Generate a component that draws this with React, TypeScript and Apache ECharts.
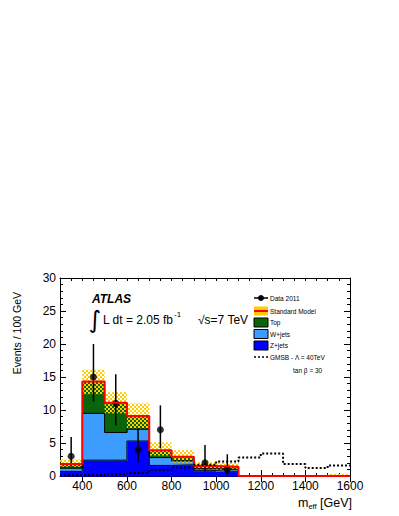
import React, { useEffect, useRef } from "react";
import * as echarts from "echarts";

// ---- data ----
const binEdges = [300, 400, 500, 600, 700, 800, 900, 1000, 1100, 1200, 1300, 1400, 1500, 1600];
const zJets = [0.7, 2.4, 2.4, 5.3, 1.6, 1.7, 0.8, 0.7, 0, 0, 0, 0, 0];
const wJets = [0.5, 7.1, 4.2, 1.8, 1.2, 0.6, 0.3, 0.3, 0, 0, 0, 0, 0];
const topBkg = [0.6, 4.8, 4.5, 2.0, 1.1, 0.6, 0.4, 0.4, 0, 0, 0, 0, 0];
const bandLow = [1.4, 12.4, 9.5, 7.2, 3.1, 2.0, 1.0, 0.8, 0, 0, 0, 0, 0];
const bandHigh = [2.5, 16.1, 12.7, 11.0, 5.1, 3.9, 2.1, 2.0, 0, 0, 0, 0, 0.3];
const gmsb = [0.1, 0.1, 0.25, 0.45, 0.9, 1.3, 1.7, 2.2, 2.8, 3.4, 1.8, 1.2, 1.6];
const dataX = [350, 450, 550, 650, 750, 950, 1050];
const dataY = [3, 15, 11, 4, 7, 2, 1];
const dataErrLow = [1.4, 11.3, 7.7, 2.1, 4.2, 0.7, 0.2];
const dataErrHigh = [5.9, 20.0, 15.4, 7.2, 10.7, 4.7, 3.3];
const xMajorTicks = [400, 600, 800, 1000, 1200, 1400, 1600];

const FONT = "'Liberation Sans', Arial, Helvetica, sans-serif";
const C_TOP = "#0a640a";
const C_W = "#3d9cff";
const C_Z = "#0000ff";
const C_RED = "#ff0000";
const C_YEL = "#ffcc00";

function makePattern(): any {
  const c = document.createElement("canvas");
  c.width = 4;
  c.height = 4;
  const ctx = c.getContext("2d")!;
  ctx.fillStyle = C_YEL;
  ctx.fillRect(0, 0, 2, 2);
  ctx.fillRect(2, 2, 2, 2);
  return { image: c.toDataURL(), repeat: "repeat", imageWidth: 4, imageHeight: 4 };
}

export default function App() {
  const ref = useRef<HTMLDivElement>(null);
  useEffect(() => {
    if (!ref.current) return;
    const chart = echarts.init(ref.current, null, { renderer: "svg" });
    const pattern = makePattern();
    const n = zJets.length;
    const lvZ = zJets.map((v) => v);
    const lvW = zJets.map((v, i) => v + wJets[i]);
    const lvT = zJets.map((v, i) => v + wJets[i] + topBkg[i]);

    const rectData = (base: number[], top: number[]) =>
      base.map((b, i) => [binEdges[i], binEdges[i + 1], b, top[i]]);
    const stepData = (vals: number[]) => {
      const d: number[][] = vals.map((v, i) => [binEdges[i], v]);
      d.push([binEdges[n], vals[n - 1]]);
      return d;
    };

    const rectSeries = (name: string, data: number[][], fill: any, overlap: boolean) => ({
      type: "custom",
      name,
      data,
      silent: true,
      renderItem: (params: any, api: any) => {
        const p1 = api.coord([api.value(0), api.value(3)]);
        const p2 = api.coord([api.value(1), api.value(2)]);
        const ext = overlap ? 0.6 : 0;
        return {
          type: "rect",
          shape: { x: p1[0], y: p1[1], width: p2[0] - p1[0] + ext, height: p2[1] - p1[1] + ext },
          style: { fill },
        };
      },
    });
    const stepLine = (name: string, vals: number[], color: string, width: number, type: any = "solid") => ({
      type: "line",
      name,
      data: stepData(vals),
      step: "end",
      symbol: "none",
      silent: true,
      lineStyle: { color, width, type },
    });

    const axisCommon = {
      type: "value",
      min: 300,
      max: 1600,
      splitLine: { show: false },
    };
    const yCommon = {
      type: "value",
      min: 0,
      max: 30,
      interval: 5,
      splitLine: { show: false },
      axisLine: { show: true, lineStyle: { color: "#000", width: 1 } },
      axisTick: { show: true, inside: true, length: 6, lineStyle: { color: "#000" } },
      minorTick: { show: true, splitNumber: 5, length: 3, lineStyle: { color: "#000" } },
    };

    const txt = (text: string, x: number, y: number, size: number, extra: any = {}) => ({
      type: "text",
      x,
      y,
      style: { text, fontSize: size, fontFamily: FONT, fill: "#000", textVerticalAlign: "middle", ...extra },
    });

    const lx = 254;
    const lw = 14;
    const legendRows = [298, 311, 322.5, 334, 345.5, 357];
    const box = (y: number, fill: string) => ({
      type: "rect",
      shape: { x: lx, y: y - 4.5, width: lw, height: 9 },
      style: { fill, stroke: "#000", lineWidth: 1 },
    });

    const option: any = {
      animation: false,
      grid: { left: 60, right: 49, top: 278, bottom: 40 },
      xAxis: [
        {
          ...axisCommon,
          position: "bottom",
          interval: 50,
          axisLine: { show: true, onZero: false, lineStyle: { color: "#000", width: 1 } },
          axisTick: { show: true, inside: true, length: 3, lineStyle: { color: "#000" } },
          axisLabel: {
            show: true,
            customValues: xMajorTicks,
            formatter: (v: number) => String(v),
            color: "#000",
            fontSize: 12,
            fontFamily: FONT,
            margin: 4,
          },
        },
        {
          ...axisCommon,
          position: "bottom",
          axisLine: { show: false },
          axisTick: { show: true, inside: true, length: 6, customValues: xMajorTicks, lineStyle: { color: "#000" } },
          axisLabel: { show: false },
        },
        {
          ...axisCommon,
          position: "top",
          interval: 50,
          axisLine: { show: true, onZero: false, lineStyle: { color: "#000", width: 1 } },
          axisTick: { show: true, inside: true, length: 3, lineStyle: { color: "#000" } },
          axisLabel: { show: false },
        },
        {
          ...axisCommon,
          position: "top",
          axisLine: { show: false },
          axisTick: { show: true, inside: true, length: 6, customValues: xMajorTicks, lineStyle: { color: "#000" } },
          axisLabel: { show: false },
        },
      ],
      yAxis: [
        {
          ...yCommon,
          position: "left",
          axisLabel: { color: "#000", fontSize: 12, fontFamily: FONT, margin: 4 },
        },
        {
          ...yCommon,
          position: "right",
          axisLabel: { show: false },
        },
      ],
      series: [
        rectSeries("Z+jets", rectData(new Array(n).fill(0), lvZ), C_Z, true),
        rectSeries("W+jets", rectData(lvZ, lvW), C_W, true),
        rectSeries("Top", rectData(lvW, lvT), C_TOP, true),
        stepLine("Z outline", lvZ, "#000", 1),
        stepLine("W outline", lvW, "#000", 1),
        rectSeries("SM uncertainty", rectData(bandLow, bandHigh), pattern, false),
        stepLine("Standard Model", lvT, C_RED, 2),
        stepLine("GMSB", gmsb, "#000", 2, [2, 2]),
        {
          type: "custom",
          name: "errors",
          silent: true,
          data: dataX.map((x, i) => [x, dataErrLow[i], dataErrHigh[i]]),
          renderItem: (params: any, api: any) => {
            const a = api.coord([api.value(0), api.value(1)]);
            const b = api.coord([api.value(0), api.value(2)]);
            return {
              type: "line",
              shape: { x1: a[0], y1: a[1], x2: b[0], y2: b[1] },
              style: { stroke: "#000", lineWidth: 1.5 },
            };
          },
        },
        {
          type: "scatter",
          name: "Data 2011",
          silent: true,
          symbol: "circle",
          symbolSize: 7,
          itemStyle: { color: "#000" },
          data: dataX.map((x, i) => [x, dataY[i]]),
        },
      ],
      graphic: [
        // y-axis title
        {
          type: "text",
          x: 17,
          y: 292,
          rotation: Math.PI / 2,
          style: {
            text: "Events / 100 GeV",
            fontSize: 10.5,
            fontFamily: FONT,
            fill: "#000",
            textAlign: "right",
            textVerticalAlign: "middle",
          },
        },
        // x-axis title
        {
          type: "text",
          x: 352,
          y: 503,
          style: {
            text: "m{sub|eff} [GeV]",
            fontSize: 12.5,
            fontFamily: FONT,
            fill: "#000",
            textAlign: "right",
            textVerticalAlign: "middle",
            rich: {
              sub: { fontSize: 7.5, fontFamily: FONT, fill: "#000", padding: [7, 0, 0, 0] },
            },
          },
        },
        txt("ATLAS", 92, 299, 12, { fontWeight: "bold", fontStyle: "italic" }),
        txt("\u222B", 95, 320, 24, { fontFamily: "'DejaVu Sans', sans-serif", textAlign: "center" }),
        txt("L dt = 2.05 fb", 103, 320, 12),
        txt("-1", 174, 314, 8),
        txt("\u221As=7 TeV", 198, 320, 12),
        // legend
        { type: "line", shape: { x1: lx, y1: 298, x2: lx + lw, y2: 298 }, style: { stroke: "#000", lineWidth: 1.5 } },
        { type: "circle", shape: { cx: lx + lw / 2, cy: 298, r: 3 }, style: { fill: "#000" } },
        txt("Data 2011", 270, legendRows[0], 6.5),
        { type: "rect", shape: { x: lx, y: 311 - 4.5, width: lw, height: 9 }, style: { fill: C_YEL } },
        { type: "line", shape: { x1: lx, y1: 311, x2: lx + lw, y2: 311 }, style: { stroke: C_RED, lineWidth: 2 } },
        txt("Standard Model", 270, legendRows[1], 6.5),
        box(legendRows[2], C_TOP),
        txt("Top", 270, legendRows[2], 6.5),
        box(legendRows[3], C_W),
        txt("W+jets", 270, legendRows[3], 6.5),
        box(legendRows[4], C_Z),
        txt("Z+jets", 270, legendRows[4], 6.5),
        {
          type: "line",
          shape: { x1: lx, y1: 357, x2: lx + lw, y2: 357 },
          style: { stroke: "#000", lineWidth: 1.5, lineDash: [2, 2] },
        },
        txt("GMSB - \u039B = 40TeV", 270, legendRows[5], 6.5),
        txt("tan \u03B2 = 30", 293, 370, 6.5),
      ],
    };
    chart.setOption(option);
    return () => chart.dispose();
  }, []);
  return (
    <div
      ref={ref}
      style={{ position: "fixed", left: 0, top: 0, width: 399, height: 516, background: "#fff" }}
    />
  );
}
